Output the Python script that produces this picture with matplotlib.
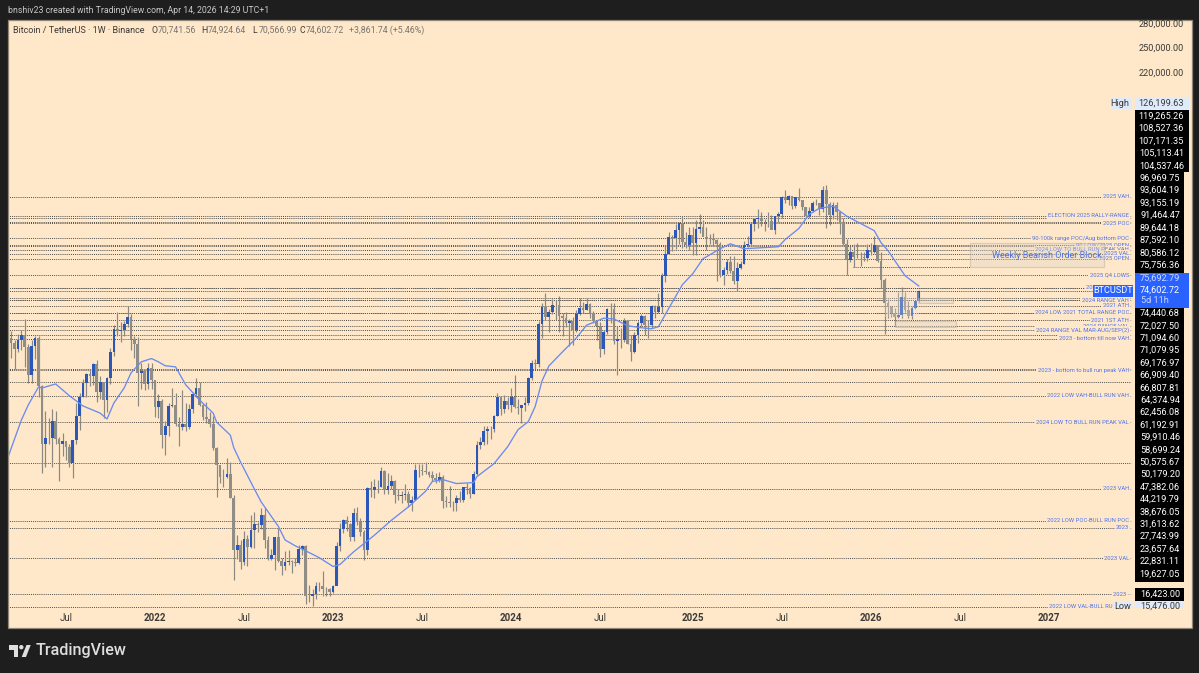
import pandas as pd
import matplotlib
matplotlib.use("Agg")
import matplotlib.pyplot as plt
import matplotlib.dates as mdates
from matplotlib.patches import Rectangle, Polygon, Circle

plt.rcParams['font.family'] = ['Roboto', 'DejaVu Sans']

# weekly candles
closes = [
    59000, 57400, 55800, 58200, 59800, 56200, 49100, 56600, 58800, 46400, 34700, 35700, 35800,
    39000, 35600, 34700, 35300, 34250, 31500, 35400, 39900, 43800, 47000, 49300, 48800, 51700,
    45100, 47200, 43200, 48200, 54900, 61500, 60900, 61300, 63300, 65500, 58600, 57200, 49400,
    50100, 46800, 50800, 47700,
    41800, 43100, 36300, 37900, 41900, 42200, 38400, 37700, 38400, 37800, 41300, 44500, 45800,
    42150, 39700, 39400, 38400, 34000, 31300, 29400, 29400, 29900, 26500, 20500, 21000, 19300,
    21600, 20800, 22600, 23300, 23200, 24300, 21500, 19550, 20000, 21800, 19400, 18900, 19300,
    19400, 19300, 19200, 20600, 20900, 16300, 16280, 16430, 17100, 17100, 16800, 16840, 16620,
    17100, 20870, 22700, 23750, 23300, 21800, 24630, 23560, 22430, 20450, 27900, 27600, 27950,
    27950, 30300, 27600, 28100, 28900, 26900, 26750, 26850, 27100, 25850, 26300, 30450, 30500,
    30300, 30250, 29750, 29300, 29000, 29400, 26100, 26000, 25800, 25800, 26500, 26250, 27950,
    27900, 27100, 29900, 34500, 35000, 37050, 37350, 37450, 39950, 43800, 41350, 43000, 42250,
    44000, 41700, 41600, 42100, 42600, 48300, 52100, 51700, 63100, 68950, 65300, 67200, 69600,
    69350, 65700, 64950, 63400, 64000, 61450, 66300, 68500, 67750, 69650, 66600, 64250, 62700,
    55850, 60800, 68150, 68250, 58150, 58700, 58450, 64200, 57300, 54850, 59950, 63350, 65650,
    62800, 62900, 69000, 67000, 68750, 80400, 89800, 97700, 97150, 101200, 104500, 95200, 93700, 98300,
    94500, 101300, 102600, 97700, 96450, 96500, 96250, 94200, 80700, 82600, 86000, 82400, 78400,
    83700, 85200, 93800, 94300, 104100, 106500, 107000, 105650, 105700, 105500, 100900, 108400, 109200,
    119100, 117300, 119400, 114000, 119300, 117500, 113500, 108200, 111100, 115300, 115300, 112100, 123500,
    115100, 108600, 114500, 110500, 104700, 94100, 86800, 90400, 88400, 88200, 88100, 87800, 91500,
    90500, 93600, 86600, 78700, 70300, 68800, 66650, 65340, 66000, 72400, 67770, 65800, 68600,
    70741.56, 74602.72,
]
highs = [
    61800, 61000, 58400, 60200, 61300, 64850, 57100, 58400, 59500, 59600, 46600, 40900, 39500,
    41300, 41000, 36000, 36700, 35100, 34700, 35500, 42600, 44800, 48100, 49400, 50500, 52100,
    52900, 48800, 47400, 48500, 56100, 62900, 67000, 63700, 64300, 69000, 66300, 59400, 59100,
    51900, 50300, 51900, 52100,
    47500, 44500, 43500, 38900, 42600, 45800, 44800, 39800, 45400, 42600, 42400, 45000, 48200,
    47200, 42400, 42900, 40800, 40000, 34200, 31000, 30700, 32400, 31800, 26900, 22000, 21500,
    22500, 22100, 24300, 24700, 23500, 25200, 25200, 21900, 20600, 21800, 22800, 19700, 20400,
    20500, 19500, 19700, 21000, 21000, 21000, 17200, 16800, 17400, 17400, 18400, 17000, 16950,
    17200, 21300, 23400, 23900, 24250, 23400, 25200, 25300, 24000, 22600, 28000, 28900, 29200,
    29000, 31000, 30500, 30000, 29800, 29000, 27700, 27400, 28400, 27400, 26800, 31400, 31400,
    31400, 31800, 30400, 30300, 30000, 30200, 29700, 26800, 28100, 26100, 26900, 27500, 28000,
    28600, 28000, 30300, 35200, 35900, 38000, 37900, 38000, 40200, 44700, 43700, 44300, 43800,
    45900, 49000, 43500, 42200, 44000, 48600, 52800, 52950, 64000, 70000, 73800, 68100, 71700,
    71300, 72800, 66800, 67200, 64700, 65500, 67700, 71900, 70600, 71950, 70200, 67300, 63400,
    63800, 61300, 68400, 70000, 70000, 62700, 61800, 65000, 64500, 59800, 60700, 64100, 66500,
    66000, 64500, 69400, 69500, 73600, 81500, 93300, 99800, 98700, 104000, 105200, 108400, 99900, 102500,
    102700, 106000, 109600, 106400, 102500, 98800, 99400, 96500, 95000, 84000, 87400, 88800, 88500,
    86100, 86500, 95800, 97900, 104300, 106600, 112000, 110400, 106800, 110400, 108900, 108500, 110500,
    119500, 123200, 120200, 119800, 119300, 124500, 117600, 113500, 113400, 116700, 117900, 115400, 125700,
    126199.63, 115900, 116000, 116400, 110700, 107500, 96600, 93100, 94100, 94600, 90600, 90600, 94000,
    94800, 97900, 93700, 90500, 79300, 71500, 69000, 68500, 74000, 76000, 74000, 71000, 69000,
    71000, 74924.64,
]
lows = [
    49300, 53200, 50400, 54900, 55500, 50900, 47000, 47000, 53000, 43800, 30000, 31000, 34800,
    31000, 34800, 28800, 32700, 32000, 31000, 29300, 34800, 37300, 43800, 43900, 46300, 46500,
    42800, 43400, 39600, 40700, 46900, 53800, 59500, 57800, 59500, 62300, 55600, 53200, 42000,
    45700, 45500, 45600, 45700,
    39650, 39500, 34000, 32900, 36200, 41700, 38000, 34300, 37300, 37100, 37500, 40500, 44000,
    41900, 39200, 38500, 37700, 33700, 26700, 28600, 28000, 29300, 26500, 17600, 19600, 18600,
    19000, 18900, 20700, 20700, 22400, 22700, 20700, 19500, 19500, 18500, 19300, 18100, 18500,
    19000, 18200, 18900, 19100, 20000, 15600, 15800, 15476, 16000, 16700, 16300, 16300, 16300,
    16500, 17300, 20400, 22300, 22500, 21400, 21400, 23200, 21900, 19500, 20000, 26600, 26500,
    27200, 28000, 27100, 27000, 27700, 25800, 26300, 25900, 26300, 25300, 24800, 26200, 29500,
    29700, 29900, 29500, 28800, 28600, 28700, 25200, 25300, 25300, 24900, 24900, 26000, 26000,
    27100, 26500, 27100, 29700, 33800, 34500, 34700, 35600, 36800, 39900, 40200, 40500, 41300,
    40750, 41500, 40300, 38500, 41000, 42250, 47700, 50500, 50900, 59000, 64500, 60700, 66400,
    64500, 60700, 59600, 62400, 56500, 56900, 60700, 66000, 66600, 67600, 65000, 63400, 58400,
    53500, 54300, 60000, 63500, 57100, 49000, 56100, 57800, 57200, 52550, 54600, 57500, 62700,
    59800, 58900, 62000, 65000, 66800, 66800, 78000, 89400, 90800, 92000, 94100, 92200, 92500, 91500,
    89300, 89200, 99500, 97800, 91200, 94100, 93400, 78300, 80000, 76600, 81100, 81600, 77000,
    74500, 83000, 85100, 92800, 93400, 100700, 102000, 103100, 100400, 102600, 102900, 99000, 105100,
    107500, 115700, 114700, 112000, 112600, 116800, 111700, 107300, 107300, 110600, 114300, 108600, 110400,
    102000, 103500, 106500, 106300, 98900, 93600, 80600, 86000, 83800, 87700, 84400, 86400, 86500,
    89300, 90000, 86000, 75700, 60000, 65000, 65500, 62440, 65000, 65000, 67000, 65000, 64800,
    68000, 70566.99,
]
first_open = 51000

# moving average, week number and value
ma_weeks = [0, 4, 6, 9, 10, 14, 18, 22, 27, 29, 31, 34, 36, 39, 42, 44, 46, 49, 52, 56, 60, 61, 65, 66, 68,
            72, 74, 79, 81, 84, 87, 91, 95, 97, 101, 107, 112, 117, 122, 124, 127, 131, 136, 137, 142, 146,
            149, 152, 154, 156, 158, 162, 166, 169, 174, 177, 181, 185, 188, 190, 193, 197, 200, 203, 208,
            211, 215, 220, 225, 227, 231, 234, 237, 241, 245, 253, 255, 257, 262, 266]
ma_values = [32380, 39140, 42180, 46150, 45920, 46850, 44180, 41970, 40500, 39340, 42600, 45920, 49500, 52320,
             53180, 52320, 51290, 51030, 46620, 43250, 40500, 38720, 36290, 34090, 31710, 27750, 26010, 23030,
             21500, 20880, 20370, 19680, 18840, 19030, 20270, 22000, 23720, 25370, 27420, 28800, 29070, 28500,
             28640, 29500, 31480, 34270, 37290, 38830, 41850, 47540, 51240, 55000, 58900, 62800, 65040, 64800,
             62640, 62020, 61710, 62340, 68300, 76900, 81200, 87500, 92000, 94300, 92000, 92450, 92900, 96300,
             101800, 109200, 112600, 113700, 108200, 100700, 94800, 91200, 80400, 76400]

# horizontal levels
level_prices = [119265.26, 108527.36, 107171.35, 105113.41, 104537.46, 96969.75, 93604.19, 93155.19, 91464.47,
                89644.18, 87592.10, 80586.12, 75756.36, 75692.79, 74440.68, 72027.50, 71094.60, 71079.95,
                69176.97, 66909.40, 66807.81, 64374.94, 62456.08, 61192.91, 59910.46, 58699.24, 50575.67,
                50179.20, 47382.06, 44219.79, 38676.05, 31613.62, 27743.99, 23657.64, 22831.11, 19627.05,
                16423.00, 15400.00]
level_labels = ["2025 VAH", "ELECTION 2025 RALLY-RANGE", "", "2025 POC", "2025 POC",
                "90-100k range POC/Aug bottom POC", "90 LOW/2025 OPEN", "", "2024 LOW TO BULL RUN PEAK VAH",
                "2025 VAL", "2025 OPEN", "2025 Q4 LOWS", "2025 APR LOWS", "", "", "", "2024 RANGE VAH", "",
                "2021 ATH", "2024 LOW TO BULL RUN PEAK POC", "2021 TOTAL RANGE POC", "2021 1ST ATH",
                "2024 RANGE VAL", "2024 RANGE VAL MAR-AUG/SEP(2)", "", "2023 - bottom till now VAH", "",
                "2023 - bottom to bull run peak VAH", "", "2022 LOW VAH-BULL RUN VAH",
                "2024 LOW TO BULL RUN PEAK VAL", "", "2023 VAH", "2022 LOW POC-BULL RUN POC", "2023",
                "2023 VAL", "2023 -", "2022 LOW VAL-BULL RUN VAL"]

top_scale = ["280,000.00", "250,000.00", "220,000.00"]
high_label = "126,199.63"
wide_black = ["119,265.26", "108,527.36", "107,171.35", "105,113.41", "104,537.46"]
narrow_black_a = ["96,969.75", "93,604.19", "93,155.19", "91,464.47", "89,644.18", "87,592.10", "80,586.12",
                  "75,756.36"]
narrow_black_b = ["74,440.68", "72,027.50", "71,094.60", "71,079.95", "69,176.97", "66,909.40", "66,807.81",
                  "64,374.94", "62,456.08", "61,192.91", "59,910.46", "58,699.24", "50,575.67", "50,179.20",
                  "47,382.06", "44,219.79", "38,676.05", "31,613.62", "27,743.99", "23,657.64", "22,831.11",
                  "19,627.05"]

tick_dates = ["2021-07-05", "2022-01-03", "2022-07-04", "2023-01-02", "2023-07-03", "2024-01-01", "2024-07-01",
              "2025-01-06", "2025-07-07", "2026-01-05", "2026-07-06", "2027-01-04"]
tick_names = ["Jul", "2022", "Jul", "2023", "Jul", "2024", "Jul", "2025", "Jul", "2026", "Jul", "2027"]

BG = '#ffe7c9'
DARK = '#1e1e1e'
UP = '#2b58b8'
DOWN = '#8f8d86'
WICK = '#8a8880'
LINE = '#55534e'
TXT = '#3b3a36'
BLUE = '#4f74ea'

W, H = 1199, 673
fig = plt.figure(figsize=(W / 100, H / 100), dpi=100, facecolor=DARK)


def box(left, top, right, bottom):
    return [left / W, 1 - bottom / H, (right - left) / W, (bottom - top) / H]


ax = fig.add_axes(box(8, 20, 1134, 628), facecolor=BG)
ax.set_yscale('log')
ax.set_ylim(13860, 288080)
dates = pd.date_range('2021-03-08', periods=len(closes), freq='W-MON')
x = mdates.date2num(dates)
week = 7 / 3.425
ax.set_xlim(x[0] + 0.3 * week, x[0] + (1134 - 7.7) * week)

opens = [first_open] + closes[:-1]
up = [c >= o for o, c in zip(opens, closes)]
ax.hlines(level_prices, x[0] - 30, x[0] + (1131 - 7.7) * week, color=LINE, lw=0.72, linestyle=(0, (1, 1.1)), zorder=1)
ax.vlines(x, lows, highs, color=WICK, lw=0.85, zorder=3)
ax.bar(x, [abs(c - o) for o, c in zip(opens, closes)], bottom=[min(o, c) for o, c in zip(opens, closes)], width=5.6,
       color=[UP if u else DOWN for u in up], linewidth=0, zorder=4)
ax.plot(x[ma_weeks], ma_values, color='#6a8bf0', lw=0.95, zorder=5)

for name, price in zip(level_labels, level_prices):
    if name:
        ax.annotate(name, xy=(1, price), xycoords=('axes fraction', 'data'), xytext=(-5, 0), textcoords='offset pixels',
                    ha='right', va='center', fontsize=4.2, color=BLUE, zorder=6,
                    bbox=dict(boxstyle='square,pad=0.2', fc=BG, ec='none'))

ax.set_yticks([])
ax.minorticks_off()
ax.yaxis.set_minor_locator(matplotlib.ticker.NullLocator())
ax.set_xticks(mdates.date2num(pd.to_datetime(tick_dates)))
ax.set_xticklabels(tick_names, fontsize=7, color=TXT)
for lab, name in zip(ax.get_xticklabels(), tick_names):
    if name != 'Jul':
        lab.set_fontweight('bold')
ax.tick_params(axis='x', length=0, direction='in', pad=-10.7)
for s in ax.spines.values():
    s.set_visible(False)

# everything pinned to screen pixels goes on an overlay
px = fig.add_axes([0, 0, 1, 1], facecolor='none')
px.set_xlim(0, W)
px.set_ylim(H, 0)
px.axis('off')

# price scale strip
px.add_patch(Rectangle((1134, 20), 57.5, 608, fc=BG, ec='none', zorder=1))
px.add_patch(Rectangle((7.5, 19.5), 1184, 608.5, fc='none', ec='#8f8878', lw=0.9, zorder=1))

# drawn zones
px.add_patch(Rectangle((970, 243), 134, 24, fc='#dcd5c8', ec='#a89f8c', lw=0.9, alpha=0.35, zorder=2))
px.add_patch(Rectangle((918, 298), 35, 5, fc='#dcd5c8', ec='#a89f8c', lw=0.8, alpha=0.4, zorder=2))
px.add_patch(Rectangle((895, 321), 61, 6, fc='#dcd5c8', ec='#a89f8c', lw=0.8, alpha=0.4, zorder=2))
px.add_patch(Rectangle((885, 292), 34, 25, fc='#eee6da', ec='none', alpha=0.3, zorder=2))
px.plot([853, 970], [267, 267], color=LINE, lw=0.72, linestyle=(0, (1, 1.1)), zorder=2)
px.text(992, 255, "Weekly Bearish Order Block", fontsize=6.5, color='#4a72e6', ha='left', va='center', zorder=3)

num = dict(fontsize=6.6, ha='right', va='center', zorder=5)
for name, yy in zip(top_scale, [24.3, 47.7, 72.7]):
    px.text(1184, yy, name, color=TXT, **num)

px.add_patch(Rectangle((1111, 98), 20.5, 11, fc='#dfeafb', ec='none', zorder=4))
px.add_patch(Rectangle((1135, 98), 54, 11, fc='#dfeafb', ec='none', zorder=4))
px.text(1129, 103.5, "High", color=TXT, fontsize=6.6, ha='right', va='center', zorder=5)
px.text(1184, 103.5, high_label, color=TXT, **num)

px.add_patch(Rectangle((1135, 109.5), 54, 62.5, fc='black', ec='none', zorder=4))
px.add_patch(Rectangle((1135, 172), 48.5, 410, fc='black', ec='none', zorder=4))
for i, name in enumerate(wide_black):
    px.text(1184, 115.7 + i * 12.5, name, color='white', **num)
for i, name in enumerate(narrow_black_a):
    px.text(1180, 178 + i * 12.45, name, color='white', **num)
for i, name in enumerate(narrow_black_b):
    px.text(1180, 313.3 + i * 12.4, name, color='white', **num)

px.add_patch(Rectangle((1135, 272.5), 54, 35, fc='#2962ff', ec='none', zorder=4))
px.text(1180, 277.7, "75,692.79", color='#c9d8ff', **num)
px.text(1180, 290, "74,602.72", color='white', **num)
px.text(1141, 300.7, "5d 11h", color='#c9d8ff', fontsize=6.6, ha='left', va='center', zorder=5)
px.add_patch(Rectangle((1093, 285), 40, 11.5, fc='#2962ff', ec='none', zorder=6))
px.text(1113, 290.7, "BTCUSDT", color='white', fontsize=6.6, ha='center', va='center', zorder=7)

px.add_patch(Rectangle((1135, 588), 48.5, 12.5, fc='black', ec='none', zorder=4))
px.text(1180, 594, "16,423.00", color='white', **num)
px.add_patch(Rectangle((1113, 602), 20, 6, fc='#dfeafb', ec='none', zorder=4))
px.add_patch(Rectangle((1135, 602), 48.5, 6, fc='#dfeafb', ec='none', zorder=4))
clip = Rectangle((1100, 602), 90, 6, transform=px.transData)
t1 = px.text(1131, 606.5, "Low", color=TXT, fontsize=6.6, ha='right', va='center', zorder=5)
t2 = px.text(1180, 606.5, "15,476.00", color=TXT, **num)
t1.set_clip_path(clip)
t2.set_clip_path(clip)

# header text
px.text(8, 10.5, "bnshiv23 created with TradingView.com, Apr 14, 2026 14:29 UTC+1", color='#c8c8c8',
        fontsize=6.35, ha='left', va='center')
px.text(13, 30.5, "Bitcoin / TetherUS · 1W · Binance", color=TXT, fontsize=6.5, ha='left', va='center', zorder=5)
ohlc_x = [151, 201, 252, 299]
ohlc_names = ["O", "H", "L", "C"]
ohlc_vals = ["70,741.56", "74,924.64", "70,566.99", "74,602.72"]
for xx, n, v in zip(ohlc_x, ohlc_names, ohlc_vals):
    px.text(xx, 30.5, n, color=TXT, fontsize=6.35, ha='left', va='center', zorder=5)
    px.text(xx + 6.5, 30.5, v, color='#77756e', fontsize=6.35, ha='left', va='center', zorder=5)
px.text(349, 30.5, "+3,861.74 (+5.46%)", color='#77756e', fontsize=6.35, ha='left', va='center', zorder=5)

# logo
GL = '#dedede'
px.add_patch(Polygon([(9, 645), (17.5, 645), (17.5, 657), (13.5, 657), (13.5, 649.5), (9, 649.5)], fc=GL, ec='none'))
px.add_patch(Circle((21.3, 647.2), 2.2, fc=GL, ec='none'))
px.add_patch(Polygon([(26.5, 645), (30.7, 645), (26, 657), (21.7, 657)], fc=GL, ec='none'))
px.text(36, 651, "TradingView", color=GL, fontsize=11.6, fontweight='medium', ha='left', va='center')

fig.savefig('out.png', dpi=100, facecolor=DARK)
